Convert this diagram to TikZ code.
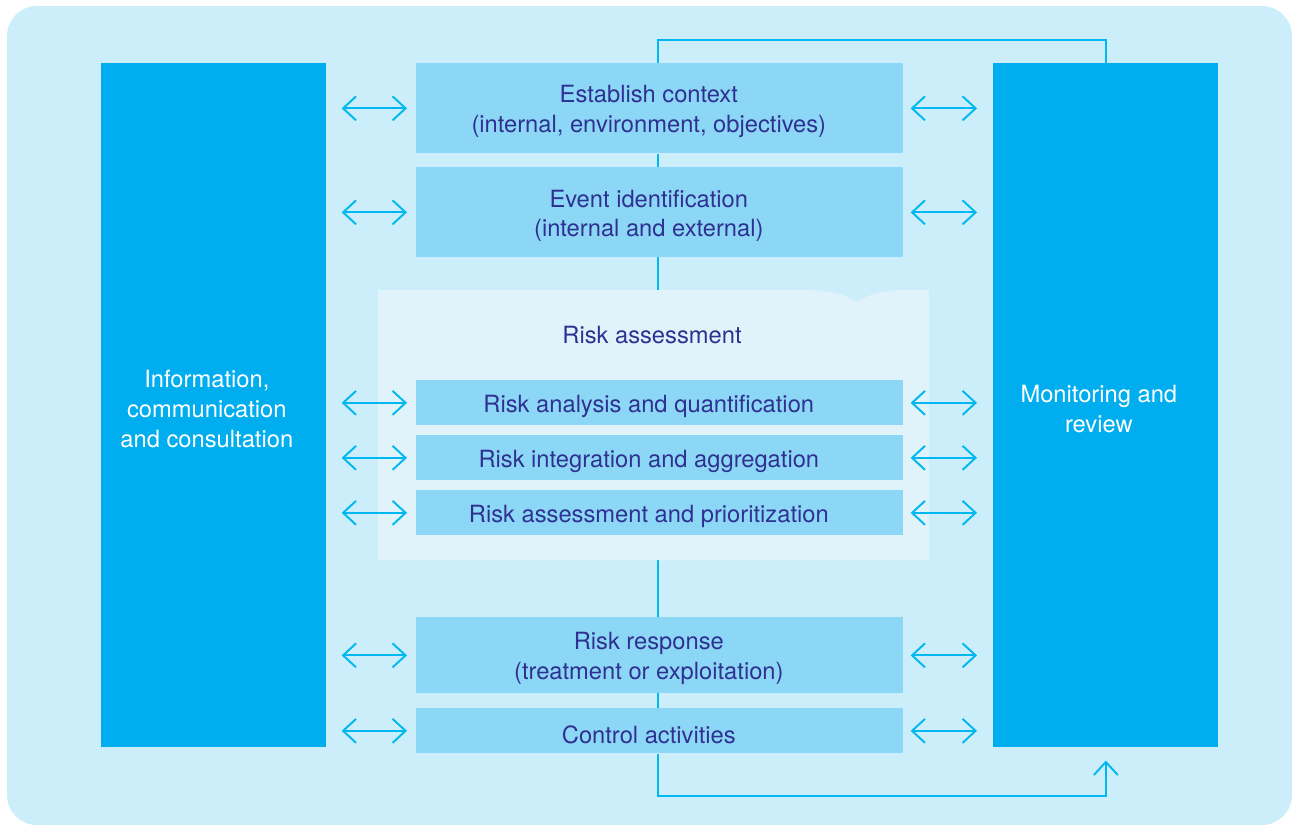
\documentclass[tikz,border=0pt]{standalone}
\usepackage{fontspec}
\setmainfont{TeX Gyre Heros}
\usetikzlibrary{arrows.meta}
\definecolor{bgblue}{HTML}{CCEEFA}
\definecolor{sideblue}{HTML}{00AEEF}
\definecolor{stepblue}{HTML}{8DD7F6}
\definecolor{panelblue}{HTML}{E0F3FB}
\definecolor{inkblue}{HTML}{2E3192}
\definecolor{lineblue}{HTML}{00B8F1}
\pgfdeclarelayer{back}
\pgfdeclarelayer{spine}
\pgfsetlayers{back,spine,main}

\begin{document}
\begin{tikzpicture}[x=0.02cm, y=-0.02cm,
	sidebox/.style={fill=sideblue, anchor=north west, minimum width=4.5cm, minimum height=13.68cm, inner sep=0pt},
	stepbox/.style={fill=stepblue, anchor=north west, minimum width=9.74cm, inner sep=0pt},
	steptext/.style={text=inkblue, align=center, font=\fontsize{13.5}{17}\selectfont, xshift=-0.22cm, yshift=-0.07cm},
	sidetext/.style={text=white, align=center, font=\fontsize{13.5}{17}\selectfont, xshift=-0.14cm, yshift=-0.08cm},
	flowline/.style={draw=lineblue, line width=1.1pt},
	dblarrow/.style={flowline, {Straight Barb[length=0.26cm, width=0.48cm]}-{Straight Barb[length=0.26cm, width=0.48cm]}},
	leftgap/.style={shorten <=0.3cm, shorten >=0.18cm},
	rightgap/.style={shorten <=0.14cm, shorten >=0.32cm}]
			%%%%% FRAME %%%%%
			\useasboundingbox (0, 0) rectangle (1293, 825);
			\begin{pgfonlayer}{back}
				\fill[bgblue, rounded corners=0.6cm] (7, 6) rectangle (1292, 825);
			\end{pgfonlayer}
			
			%%%%% RISK ASSESSMENT PANEL %%%%%
			\fill[panelblue] (378, 290) -- (810, 290) .. controls (838, 291) and (848, 297) .. (857, 302)
				.. controls (866, 296) and (878, 291) .. (900, 290) -- (929, 290) -- (929, 560) -- (378, 560) -- cycle;
			\node[text=inkblue, font=\fontsize{13.5}{17}\selectfont] (ratitle) at (652, 335) {Risk assessment};
			
			%%%%% SIDE BOXES %%%%%
			\node[sidebox, label={[sidetext]center:Information,\\communication\\and consultation}] (info) at (101, 63) {};
			\node[sidebox, label={[sidetext]center:Monitoring and\\review}] (mon) at (993, 63) {};
			
			%%%%% STEPS %%%%%
			\node[stepbox, minimum height=1.8cm, label={[steptext]center:Establish context\\(internal, environment, objectives)}] (est) at (416, 63) {};
			\node[stepbox, minimum height=1.8cm, label={[steptext]center:Event identification\\(internal and external)}] (evt) at (416, 167) {};
			\node[stepbox, minimum height=0.9cm, label={[steptext]center:Risk analysis and quantification}] (ana) at (416, 380) {};
			\node[stepbox, minimum height=0.9cm, label={[steptext]center:Risk integration and aggregation}] (agg) at (416, 435) {};
			\node[stepbox, minimum height=0.9cm, label={[steptext]center:Risk assessment and prioritization}] (pri) at (416, 490) {};
			\node[stepbox, minimum height=1.52cm, label={[steptext]center:Risk response\\(treatment or exploitation)}] (resp) at (416, 617) {};
			\node[stepbox, minimum height=0.9cm, label={[steptext]center:Control activities}] (ctl) at (416, 708) {};
			
			%%%%% FLOW %%%%%
			\begin{pgfonlayer}{spine}
				\draw[flowline] ([xshift=-0.03cm]est.south) -- ([xshift=-0.03cm]ctl.north);
			\end{pgfonlayer}
			\draw[flowline] ([xshift=-0.03cm]est.north) -- ++(0, -23) -| (mon.north);
			\coordinate (back) at ([yshift=-0.26cm]mon.south);
			\draw[flowline, -{Straight Barb[length=0.26cm, width=0.48cm]}] ([xshift=-0.03cm]ctl.south) -- ++(0, 42) -| (back);
			
			%%%%% ARROWS %%%%%
			\foreach \s in {est, evt, ana, agg, pri, resp, ctl} {
				\draw[dblarrow, leftgap] (info.east |- \s.west) -- (\s.west);
				\draw[dblarrow, rightgap] (\s.east) -- (\s.east -| mon.west);
			}
			
			%%%%% END %%%%%
		\end{tikzpicture}
\end{document}
